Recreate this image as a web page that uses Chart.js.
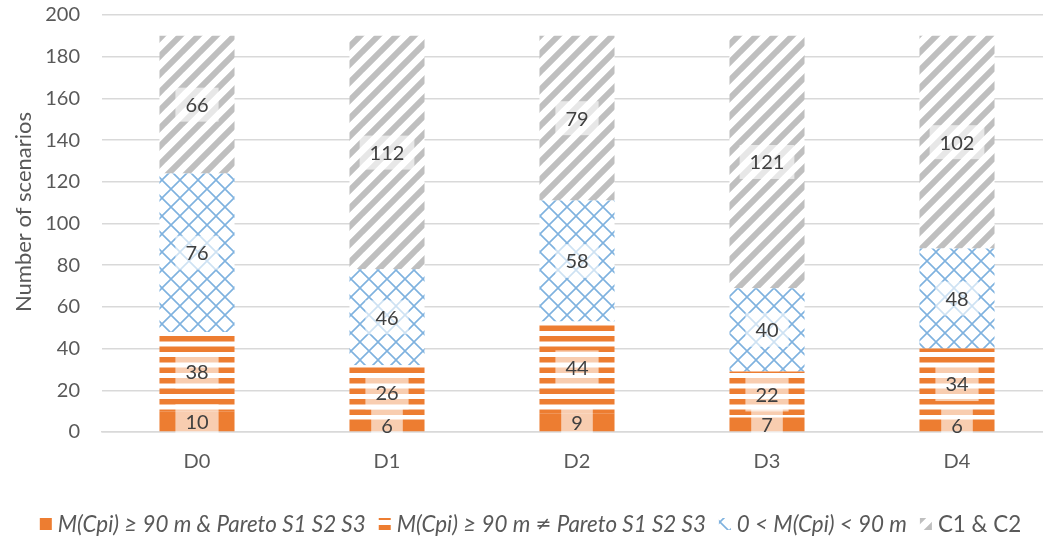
<!DOCTYPE html>
<html>
<head>
<meta charset="utf-8">
<script src="https://cdn.jsdelivr.net/npm/chart.js@4.4.1/dist/chart.umd.min.js"></script>
<style>
  html, body { margin:0; padding:0; background:#fff; overflow:hidden; }
  #wrap { width:1056px; height:540px; position:relative; }
</style>
</head>
<body>
<div id="wrap"><canvas id="chart"></canvas></div>
<script>
// data
const categories = ['D0', 'D1', 'D2', 'D3', 'D4'];
const paretoAll = [10, 6, 9, 7, 6];        // M(Cpi) >= 90 m & Pareto S1 S2 S3
const paretoNot = [38, 26, 44, 22, 34];    // M(Cpi) >= 90 m != Pareto S1 S2 S3
const below90 = [76, 46, 58, 40, 48];      // 0 < M(Cpi) < 90 m
const c1c2 = [66, 112, 79, 121, 102];      // C1 & C2
const seriesNames = ['M(Cpi) \u2265 90 m & Pareto S1 S2 S3', 'M(Cpi) \u2265 90 m \u2260 Pareto S1 S2 S3', '0 < M(Cpi) < 90 m', 'C1 & C2'];
const yTicks = [0, 20, 40, 60, 80, 100, 120, 140, 160, 180, 200];
const yTitle = 'Number of scenarios';

const FONT = 'Lato, "Open Sans", sans-serif';
const ORANGE = '#ED7D31';

// pattern tiles
function tile(w, h, draw) {
    const c = document.createElement('canvas');
    c.width = w; c.height = h;
    const g = c.getContext('2d');
    g.fillStyle = '#fff';
    g.fillRect(0, 0, w, h);
    draw(g);
    return g.createPattern(c, 'repeat');
}
const stripePat = tile(8, 21, g => {
    g.fillStyle = ORANGE;
    g.fillRect(0, 0, 8, 5.5);
    g.fillRect(0, 10.5, 8, 5.5);
});
const diamondPat = tile(18, 18, g => {
    g.strokeStyle = '#7FB2DF';
    g.lineWidth = 1.6;
    g.beginPath();
    for (const k of [-18, 0, 18]) {
        g.moveTo(k, 0); g.lineTo(k + 18, 18);
        g.moveTo(k + 18, 0); g.lineTo(k, 18);
    }
    g.stroke();
});
const diagPat = tile(18, 18, g => {
    g.strokeStyle = '#BFBFBF';
    g.lineWidth = 6;
    g.beginPath();
    for (const c of [0, 18, 36]) {
        g.moveTo(c + 2, -2); g.lineTo(c - 22, 22);
    }
    g.stroke();
});
const fills = [ORANGE, stripePat, diamondPat, diagPat];

// value boxes in the middle of each segment
const valueLabels = {
    id: 'valueLabels',
    afterDatasetsDraw(chart) {
        const ctx = chart.ctx;
        ctx.save();
        ctx.font = '20px ' + FONT;
        ctx.textAlign = 'center';
        ctx.textBaseline = 'middle';
        chart.data.datasets.forEach((ds, i) => {
            chart.getDatasetMeta(i).data.forEach((bar, j) => {
                const txt = String(ds.data[j]);
                const cy = (bar.y + bar.base) / 2;
                const w = ctx.measureText(txt).width + 20;
                const h = 34;
                ctx.fillStyle = 'rgba(255,255,255,0.62)';
                ctx.fillRect(bar.x - w / 2, cy - h / 2, w, h);
                ctx.fillStyle = '#404040';
                ctx.fillText(txt, bar.x, cy + 1);
            });
        });
        ctx.restore();
    }
};

// y title sits a bit above the middle of the plot, as in the original
const sideTitle = {
    id: 'sideTitle',
    afterDraw(chart) {
        const ctx = chart.ctx;
        ctx.save();
        ctx.translate(24, 212);
        ctx.rotate(-Math.PI / 2);
        ctx.font = '22px ' + FONT;
        ctx.fillStyle = '#595959';
        ctx.textAlign = 'center';
        ctx.textBaseline = 'middle';
        ctx.fillText(yTitle, 0, 0);
        ctx.restore();
    }
};

// legend along the bottom, italic for the first three items
// the not-equal sign is missing from Lato, so it is drawn from DejaVu Sans
function runs(text, italic) {
    const st = italic ? 'italic ' : '';
    return text.split(/(\u2260)/).filter(s => s).map(s => ({
        s, font: s === '\u2260' ? '19px "DejaVu Sans"' : st + '22.4px ' + FONT
    }));
}
const bottomLegend = {
    id: 'bottomLegend',
    afterDraw(chart) {
        const ctx = chart.ctx;
        ctx.save();
        ctx.textBaseline = 'middle';
        const y = 524, box = 12, gapBox = 6, gapItem = 13;
        const items = seriesNames.map((n, i) => runs(n, i < 3));
        const widths = items.map(r => r.reduce((s, p) => { ctx.font = p.font; return s + ctx.measureText(p.s).width; }, 0));
        const total = widths.reduce((s, w) => s + box + gapBox + w, 0) + gapItem * (items.length - 1);
        let x = 530.5 - total / 2;
        items.forEach((r, i) => {
            ctx.fillStyle = fills[i];
            ctx.fillRect(x, y - box / 2, box, box);
            x += box + gapBox;
            ctx.fillStyle = '#595959';
            r.forEach(p => {
                ctx.font = p.font;
                ctx.fillText(p.s, x, y + 1);
                x += ctx.measureText(p.s).width;
            });
            x += gapItem;
        });
        ctx.restore();
    }
};

new Chart(document.getElementById('chart'), {
    type: 'bar',
    data: {
        labels: categories,
        datasets: [paretoAll, paretoNot, below90, c1c2].map((d, i) => ({
            label: seriesNames[i],
            data: d,
            backgroundColor: fills[i],
            borderWidth: 0,
            categoryPercentage: 1,
            barPercentage: 0.395
        }))
    },
    options: {
        responsive: true,
        maintainAspectRatio: false,
        animation: false,
        layout: { padding: { top: 0, right: 4, bottom: 60, left: 0 } },
        plugins: { legend: { display: false }, tooltip: { enabled: false } },
        scales: {
            x: {
                stacked: true,
                grid: { display: false, drawTicks: false },
                border: { color: '#D9D9D9', width: 1.5 },
                ticks: { color: '#595959', font: { family: FONT, size: 20 }, padding: 18 },
                afterFit(s) { s.height = 48; }
            },
            y: {
                stacked: true,
                min: 0, max: 200,
                afterBuildTicks(s) { s.ticks = yTicks.map(v => ({ value: v })); },
                // invisible tick marks push the labels away from the plot
                grid: { color: '#D9D9D9', lineWidth: 1.5, drawTicks: true, tickLength: 19, tickColor: 'rgba(0,0,0,0)' },
                border: { display: false },
                ticks: { color: '#595959', font: { family: FONT, size: 20 }, padding: 3 },
                afterFit(s) { s.width = 102; }
            }
        }
    },
    plugins: [valueLabels, sideTitle, bottomLegend]
});
</script>
</body>
</html>
